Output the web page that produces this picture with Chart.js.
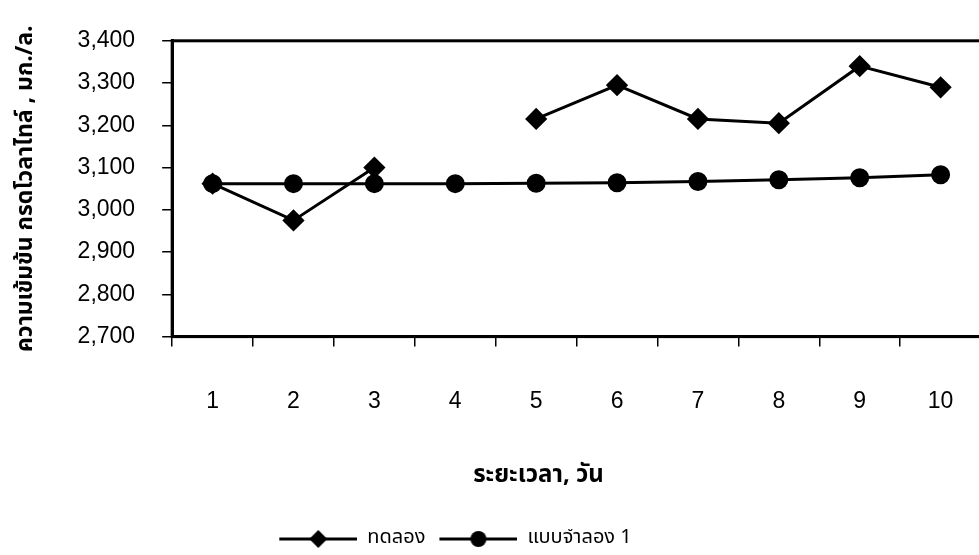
<!DOCTYPE html>
<html>
<head>
<meta charset="utf-8">
<script src="https://cdn.jsdelivr.net/npm/chart.js@4"></script>
<style>
  html, body { margin: 0; padding: 0; background: #fff; overflow: hidden; }
  #wrap { width: 995px; height: 555px; }
</style>
</head>
<body>
<div id="wrap"><canvas id="chart"></canvas></div>
<script>
// data
const days = ['1', '2', '3', '4', '5', '6', '7', '8', '9', '10'];
const experiment = [3062, 2975, 3100, null, 3215, 3295, 3215, 3205, 3340, 3290];
const model1 = [3062, 3062, 3062, 3062, 3063, 3064, 3067, 3071, 3076, 3083];

const seriesNames = ['ทดลอง', 'แบบจำลอง 1'];
const xTitle = 'ระยะเวลา, วัน';
const yTitle = 'ความเข้มข้น กรดโวลาไทล์ , มก./ล.';

const thaiFont = "'Noto Sans Thai', 'Noto Sans', 'DejaVu Sans', sans-serif";
const numFont = "'Liberation Sans', Arial, sans-serif";

// in the scan the x title sits right of the canvas centre, the legend left of it
const xTitleShift = 45;
const legendShift = -45;

// legend icon: line with the marker in the middle (blank gap on its left)
function legendIcon(style) {
  const c = document.createElement('canvas');
  c.width = 92; c.height = 20;
  const g = c.getContext('2d');
  g.strokeStyle = '#000'; g.fillStyle = '#000'; g.lineWidth = 3;
  g.beginPath(); g.moveTo(14, 10); g.lineTo(92, 10); g.stroke();
  g.beginPath();
  if (style === 'circle') {
    g.arc(53, 10, 8, 0, Math.PI * 2);
  } else {
    g.moveTo(53, 1); g.lineTo(62, 10); g.lineTo(53, 19); g.lineTo(44, 10); g.closePath();
  }
  g.fill();
  return c;
}

const boxBorder = {
  id: 'boxBorder',
  afterDatasetsDraw(chart) {
    const a = chart.chartArea, ctx = chart.ctx;
    ctx.save();
    ctx.strokeStyle = '#000';
    ctx.lineWidth = 3;
    ctx.strokeRect(a.left, a.top, a.right - a.left, a.bottom - a.top);
    ctx.restore();
  }
};

const shiftBlocks = {
  id: 'shiftBlocks',
  afterLayout(chart) {
    if (chart.titleBlock) chart.titleBlock.left += xTitleShift * 2;
    if (chart.legend) {
      chart.legend.left += legendShift;
      chart.legend.right += legendShift;
    }
  }
};

new Chart(document.getElementById('chart'), {
  type: 'line',
  data: {
    labels: days,
    datasets: [{
      label: seriesNames[0],
      data: experiment,
      borderColor: '#000',
      backgroundColor: '#000',
      borderWidth: 3,
      pointStyle: 'rectRot',
      pointRadius: 9,
      spanGaps: false,
      tension: 0
    }, {
      label: seriesNames[1],
      data: model1,
      borderColor: '#000',
      backgroundColor: '#000',
      borderWidth: 3,
      pointStyle: 'circle',
      pointRadius: 8,
      tension: 0
    }]
  },
  options: {
    responsive: true,
    maintainAspectRatio: false,
    animation: false,
    layout: { padding: { top: 31, left: 0, right: 8, bottom: -4 } },
    scales: {
      x: {
        offset: true,
        grid: { offset: true, drawOnChartArea: false, tickLength: 10, color: '#000', lineWidth: 1.5 },
        border: { color: '#000', width: 3 },
        ticks: { color: '#000', padding: 41, font: { family: numFont, size: 23 } }
      },
      y: {
        min: 2700,
        max: 3400,
        ticks: {
          stepSize: 100,
          color: '#000',
          padding: 27,
          font: { family: numFont, size: 23 },
          callback: v => v.toLocaleString('en-US')
        },
        grid: { drawOnChartArea: false, tickLength: 10, color: '#000', lineWidth: 1.5 },
        border: { color: '#000', width: 3 },
        title: {
          display: true,
          text: yTitle,
          color: '#000',
          font: { family: thaiFont, size: 23, weight: 'bold' },
          padding: { top: 14, bottom: 9 }
        }
      }
    },
    plugins: {
      title: {
        display: true,
        position: 'bottom',
        weight: 500,
        text: xTitle,
        color: '#000',
        font: { family: thaiFont, size: 24, weight: 'bold' },
        padding: { top: 7, bottom: 37 }
      },
      legend: {
        position: 'bottom',
        labels: {
          color: '#000',
          font: { family: thaiFont, size: 20 },
          usePointStyle: true,
          pointStyleWidth: 92,
          boxHeight: 20,
          padding: 0,
          generateLabels: chart => chart.data.datasets.map((ds, i) => ({
            text: ds.label,
            pointStyle: legendIcon(i === 0 ? 'rectRot' : 'circle'),
            datasetIndex: i,
            fontColor: '#000',
            lineWidth: 0,
            strokeStyle: 'transparent',
            fillStyle: 'transparent'
          }))
        }
      },
      tooltip: { enabled: false }
    }
  },
  plugins: [boxBorder, shiftBlocks]
});
</script>
</body>
</html>
